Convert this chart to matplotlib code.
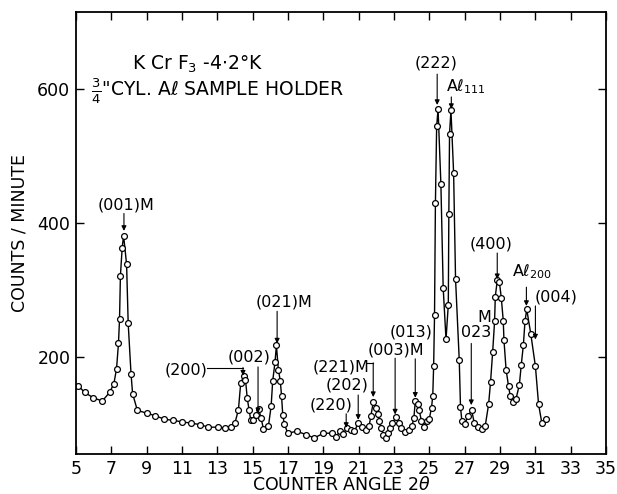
import matplotlib
matplotlib.use('Agg')
import matplotlib.pyplot as plt

# scan data
two_theta = [5.13, 5.49, 5.98, 6.49, 6.91, 7.15, 7.30, 7.41, 7.47, 7.52, 7.62, 7.70,
             7.87, 7.96, 8.12, 8.21, 8.48, 9.01, 9.50, 10.01, 10.50, 11.02, 11.52,
             12.01, 12.50, 13.02, 13.43, 13.80, 14.00, 14.20, 14.33, 14.50, 14.60,
             14.70, 14.80, 14.90, 15.05, 15.18, 15.35, 15.48, 15.61, 15.90, 16.05,
             16.14, 16.27, 16.35, 16.46, 16.57, 16.64, 16.71, 16.80, 16.99, 17.52,
             18.01, 18.50, 19.01, 19.52, 19.71, 19.96, 20.13, 20.34, 20.56, 20.77,
             20.99, 21.22, 21.41, 21.60, 21.70, 21.83, 21.98, 22.09, 22.17, 22.28,
             22.41, 22.55, 22.66, 22.79, 22.92, 23.11, 23.28, 23.43, 23.62, 23.87,
             24.02, 24.13, 24.21, 24.34, 24.43, 24.56, 24.68, 24.85, 25.00, 25.13,
             25.20, 25.25, 25.30, 25.35, 25.42, 25.50, 25.66, 25.79, 25.95, 26.08,
             26.11, 26.15, 26.23, 26.38, 26.49, 26.70, 26.77, 26.85, 27.02, 27.19,
             27.40, 27.55, 27.78, 27.99, 28.17, 28.36, 28.47, 28.59, 28.70, 28.74,
             28.85, 28.97, 29.08, 29.19, 29.23, 29.35, 29.49, 29.59, 29.72, 29.91,
             30.10, 30.21, 30.33, 30.42, 30.52, 30.75, 31.01, 31.19, 31.37, 31.63]
counts = [157, 147, 139, 134, 147, 160, 182, 220, 256, 321, 363, 381,
          338, 250, 175, 145, 120, 116, 112, 107, 105, 103, 101,
          99, 95, 95, 94, 96, 101, 121, 161, 171, 166,
          138, 121, 105, 105, 113, 122, 109, 93, 97, 126,
          164, 192, 217, 181, 164, 142, 113, 100, 86, 89,
          84, 79, 86, 86, 81, 89, 85, 94, 91, 89,
          102, 96, 91, 97, 112, 132, 123, 114, 104, 94,
          84, 79, 87, 94, 101, 110, 101, 94, 88, 91,
          97, 108, 134, 130, 121, 104, 96, 104, 107, 124,
          142, 186, 262, 429, 544, 570, 458, 303, 226, 278,
          413, 533, 568, 475, 316, 195, 125, 104, 100, 111,
          121, 101, 96, 92, 97, 129, 162, 207, 253, 290,
          314, 312, 288, 254, 225, 181, 156, 141, 133, 137,
          158, 188, 218, 253, 271, 234, 186, 129, 102, 107]

x_ticks = list(range(5, 36, 2))
y_ticks = [200, 400, 600]

plt.rcParams['font.family'] = 'DejaVu Sans'

fig = plt.figure(figsize=(6.17, 4.94), dpi=100)
ax = fig.add_axes([0.123, 0.081, 0.859, 0.895])

ax.plot(two_theta, counts, '-o', color='black', lw=1.0, ms=4.2,
        mfc='white', mec='black', mew=0.9)

ax.set_xlim(5, 35)
ax.set_ylim(55, 715)
ax.set_xticks(x_ticks)
ax.set_yticks(y_ticks)
ax.tick_params(direction='in', top=True, right=True, length=6, width=1,
               labelsize=12.5, pad=4)
for s in ax.spines.values():
    s.set_linewidth(1.3)

ax.set_xlabel('COUNTER ANGLE 2$\\theta$', fontsize=12.5, labelpad=-1)
ax.set_ylabel('COUNTS / MINUTE', fontsize=12.5, labelpad=6)

# title texts inside the plot
ax.text(8.17, 636, 'K Cr F$_3$ -4$\\cdot$2°K', fontsize=13.5, va='center')
ax.text(5.85, 597, '$\\frac{3}{4}$"CYL. A$\\ell$ SAMPLE HOLDER', fontsize=13.5,
        va='center')

ap = dict(arrowstyle='-|>', color='black', lw=0.8, mutation_scale=7,
          shrinkA=0, shrinkB=0)


def label(txt, tx, ty, ax0, y0, y1, ha='center'):
    ax.text(tx, ty, txt, fontsize=11.5, ha=ha, va='center')
    ax.annotate('', xy=(ax0, y1), xytext=(ax0, y0), arrowprops=ap)


label('(001)M', 7.83, 427, 7.72, 414, 388)
label('(222)', 25.40, 639, 25.45, 622, 576)
label('A$\\ell_{111}$', 25.96, 603, 26.25, 588, 570, ha='left')
label('(400)', 28.51, 369, 28.85, 355, 316)
label('A$\\ell_{200}$', 29.70, 327, 30.50, 304, 276, ha='left')
label('(004)', 30.95, 290, 31.01, 276, 226, ha='left')
label('023', 27.66, 236, 27.38, 220, 128)
ax.text(28.12, 258, 'M', fontsize=11.5, ha='center', va='center')
label('(003)M', 23.13, 210, 23.07, 198, 114)
ax.text(23.98, 237, '(013)', fontsize=11.5, ha='center', va='center')
ax.annotate('', xy=(24.21, 139), xytext=(24.21, 197), arrowprops=ap)
label('(202)', 20.35, 158, 20.98, 143, 106)
label('(220)', 19.45, 128, 20.30, 115, 94)
label('(002)', 14.80, 200, 15.31, 185, 116)
label('(021)M', 16.78, 282, 16.39, 268, 220)

# bracketed labels
ax.text(20.01, 185, '(221)M', fontsize=11.5, ha='center', va='center')
ax.plot([21.49, 21.83], [191, 191], color='black', lw=0.8)
ax.annotate('', xy=(21.83, 140), xytext=(21.83, 191), arrowprops=ap)

ax.text(11.23, 181, '(200)', fontsize=11.5, ha='center', va='center')
ax.plot([12.42, 14.46], [184, 184], color='black', lw=0.8)
ax.annotate('', xy=(14.46, 172), xytext=(14.46, 184), arrowprops=ap)

fig.savefig('out.png', dpi=100)
